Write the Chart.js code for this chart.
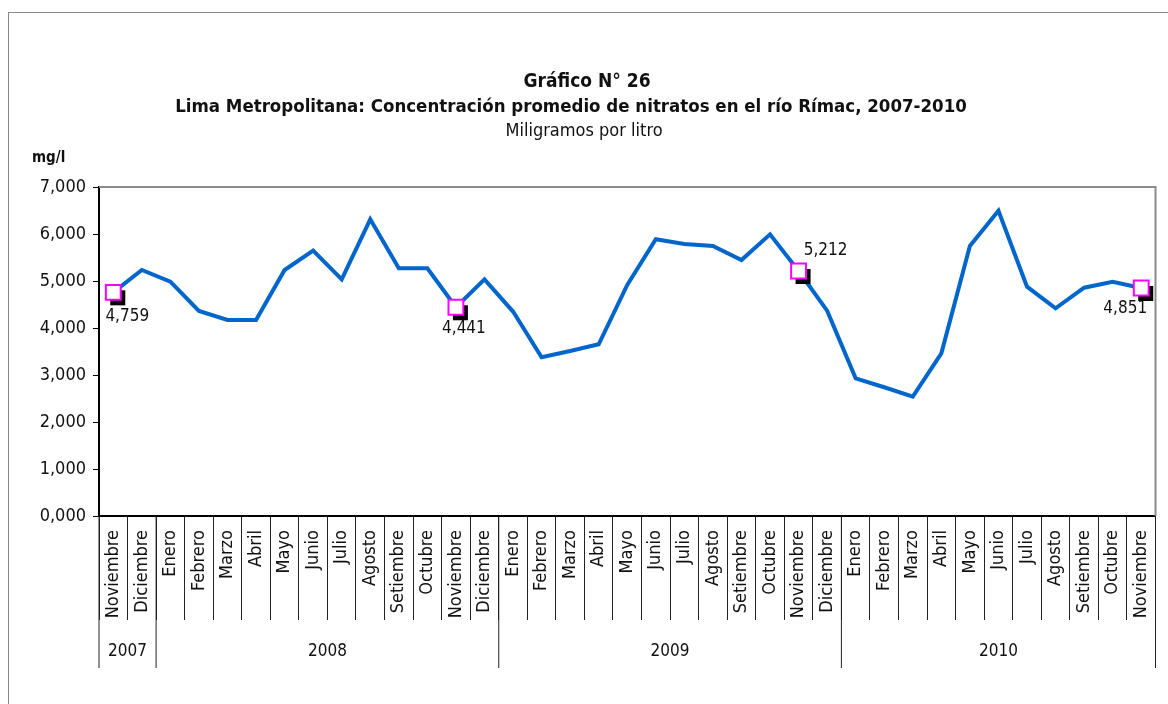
<!DOCTYPE html>
<html>
<head>
<meta charset="utf-8">
<script src="https://cdn.jsdelivr.net/npm/chart.js@4.4.1/dist/chart.umd.min.js"></script>
<style>
	html, body { margin: 0; padding: 0; background: #fff; }
	#wrap { position: relative; width: 1168px; height: 704px; overflow: hidden; }
	#frame { position: absolute; left: 8px; top: 12px; width: 1200px; height: 720px;
		border-left: 1px solid #888; border-top: 1px solid #888; }
	canvas { position: absolute; left: 0; top: 0; }
</style>
</head>
<body>
<div id="wrap">
	<div id="frame"></div>
	<canvas id="nitratos-chart" width="1168" height="704"></canvas>
</div>
<script>
const FONT = "'Liberation Sans Narrow', 'Arial Narrow', 'DejaVu Sans Condensed', sans-serif";

const months = [
	'Noviembre', 'Diciembre',
	'Enero', 'Febrero', 'Marzo', 'Abril', 'Mayo', 'Junio', 'Julio', 'Agosto', 'Setiembre', 'Octubre', 'Noviembre', 'Diciembre',
	'Enero', 'Febrero', 'Marzo', 'Abril', 'Mayo', 'Junio', 'Julio', 'Agosto', 'Setiembre', 'Octubre', 'Noviembre', 'Diciembre',
	'Enero', 'Febrero', 'Marzo', 'Abril', 'Mayo', 'Junio', 'Julio', 'Agosto', 'Setiembre', 'Octubre', 'Noviembre'
];
const years = ['2007', '2008', '2009', '2010'];
const yearMonths = [2, 12, 12, 11];

const nitratos = [
	4759, 5234,
	4985, 4362, 4170, 4170, 5234, 5645, 5035, 6312, 5270, 5270, 4441, 5035,
	4350, 3376, 3510, 3653, 4915, 5887, 5787, 5745, 5447, 5993, 5212, 4368,
	2929, 2740, 2539, 3461, 5745, 6496, 4879, 4418, 4858, 4985, 4851
];
const labeledPoints = [0, 12, 24, 36];

const yTicks = [0, 1000, 2000, 3000, 4000, 5000, 6000, 7000];

const titleMain = 'Gráfico N° 26';
const titleSub = 'Lima Metropolitana: Concentración promedio de nitratos en el río Rímac, 2007-2010';
const titleUnit = 'Miligramos por litro';
const yUnit = 'mg/l';

function fmt(v) {
	if (v === 0) return '0,000';
	return v.toLocaleString('en-US');
}

const markerData = nitratos.map((v, i) => labeledPoints.includes(i) ? v : null);

// label offset from the point, in px
const labelShift = { 0: [14, 24], 12: [8, 21], 24: [27, -20], 36: [-16, 21] };

const decorPlugin = {
	id: 'decor',
	beforeDatasetsDraw(chart) {
		const { ctx, chartArea: a } = chart;
		ctx.save();
		ctx.strokeStyle = '#8c8c8c';
		ctx.lineWidth = 2;
		ctx.beginPath();
		ctx.moveTo(a.left, a.top);
		ctx.lineTo(a.right, a.top);
		ctx.lineTo(a.right, a.bottom);
		ctx.stroke();
		ctx.restore();
	},
	beforeDatasetDraw(chart, args) {
		if (args.index !== 1) return;
		// black drop shadow behind each marker
		const ctx = chart.ctx;
		const meta = chart.getDatasetMeta(1);
		ctx.save();
		ctx.fillStyle = '#000';
		labeledPoints.forEach(i => {
			const p = meta.data[i];
			ctx.fillRect(p.x - 3, p.y - 2, 15, 15);
		});
		ctx.restore();
	},
	afterDraw(chart) {
		const { ctx, chartArea: a, scales: { x } } = chart;
		ctx.save();
		ctx.fillStyle = '#111';
		ctx.textAlign = 'center';
		ctx.textBaseline = 'middle';

		// titles
		ctx.font = 'bold 19px ' + FONT;
		ctx.fillText(titleMain, 587, 82);
		ctx.font = 'bold 18.5px ' + FONT;
		ctx.fillText(titleSub, 571, 107);
		ctx.font = '18px ' + FONT;
		ctx.fillText(titleUnit, 584, 131);
		ctx.font = 'bold 15px ' + FONT;
		ctx.textAlign = 'left';
		ctx.fillText(yUnit, 32, 158);

		// data labels
		const meta = chart.getDatasetMeta(1);
		ctx.font = '17px ' + FONT;
		ctx.textAlign = 'center';
		labeledPoints.forEach(i => {
			const p = meta.data[i];
			const s = labelShift[i];
			ctx.fillText(fmt(nitratos[i]), p.x + s[0], p.y + s[1]);
		});

		// year groups under the month labels
		ctx.strokeStyle = '#222';
		ctx.lineWidth = 1;
		let start = 0;
		const bottom = 668;
		const edge = i => x.getPixelForValue(i) - (x.getPixelForValue(1) - x.getPixelForValue(0)) / 2;
		ctx.beginPath();
		ctx.moveTo(edge(0), a.bottom);
		ctx.lineTo(edge(0), bottom);
		ctx.font = '17px ' + FONT;
		years.forEach((yr, k) => {
			const end = start + yearMonths[k];
			const xl = edge(start), xr = edge(end);
			ctx.moveTo(xr, a.bottom);
			ctx.lineTo(xr, bottom);
			ctx.fillText(yr, (xl + xr) / 2, 652);
			start = end;
		});
		ctx.stroke();
		ctx.restore();
	}
};

const ctx = document.getElementById('nitratos-chart').getContext('2d');
new Chart(ctx, {
	type: 'line',
	data: {
		labels: months,
		datasets: [{
			data: nitratos,
			borderColor: '#0066cc',
			borderWidth: 4,
			tension: 0,
			pointRadius: 0,
			pointHoverRadius: 0,
			order: 2
		}, {
			data: markerData,
			showLine: false,
			pointStyle: 'rect',
			pointRadius: 10.5,
			pointBorderWidth: 2,
			pointBorderColor: '#ff00ff',
			pointBackgroundColor: '#ffffff',
			order: 1
		}]
	},
	options: {
		responsive: false,
		animation: false,
		events: [],
		layout: { padding: { left: 0, top: 187, right: 12, bottom: 0 } },
		scales: {
			x: {
				offset: true,
				grid: {
					offset: true,
					drawOnChartArea: false,
					tickLength: 104,
					color: '#222',
					lineWidth: 1
				},
				border: { color: '#000', width: 2 },
				ticks: {
					autoSkip: false,
					minRotation: 90,
					maxRotation: 90,
					padding: -90,
					color: '#111',
					font: { family: FONT, size: 18 }
				},
				afterFit: s => { s.height = 188; }
			},
			y: {
				min: 0,
				max: 7000,
				afterBuildTicks: s => { s.ticks = yTicks.map(v => ({ value: v })); },
				grid: {
					drawOnChartArea: false,
					tickLength: 6,
					color: '#000'
				},
				border: { color: '#000', width: 2 },
				ticks: {
					padding: 7,
					color: '#111',
					font: { family: FONT, size: 18 },
					callback: v => fmt(v)
				},
				afterFit: s => { s.width = 99; }
			}
		},
		plugins: {
			legend: { display: false },
			tooltip: { enabled: false }
		}
	},
	plugins: [decorPlugin]
});
</script>
</body>
</html>
